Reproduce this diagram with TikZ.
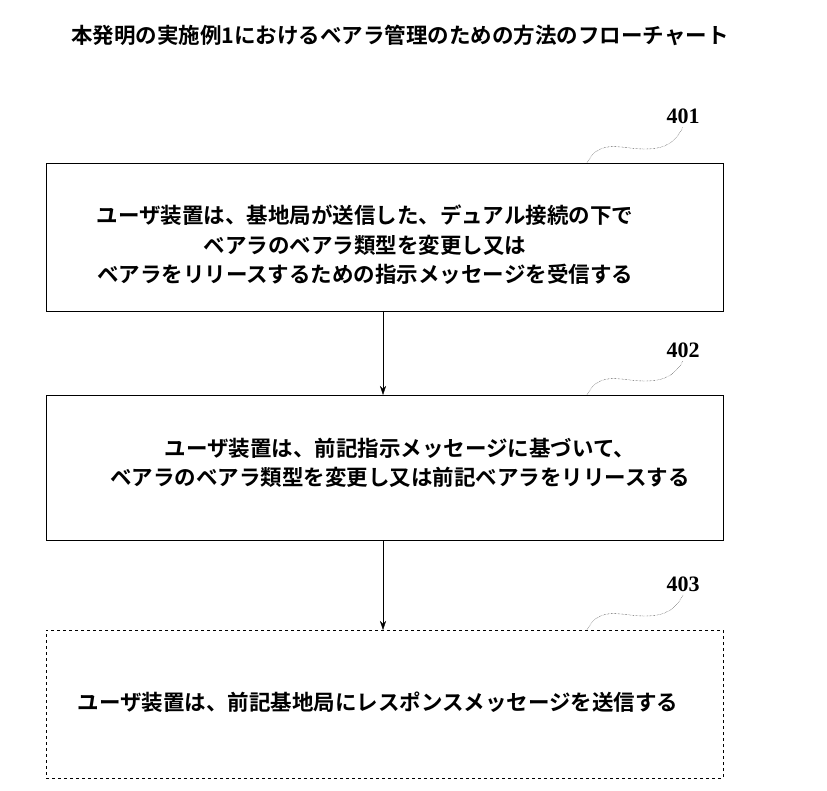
\documentclass[tikz,border=0pt]{standalone}
\usepackage{fontspec}
\usetikzlibrary{arrows.meta}
\newfontfamily\cjk{Noto Sans CJK JP}[BoldFont={Noto Sans CJK JP Bold}]
\setmainfont{Liberation Serif}
\begin{document}
\begin{tikzpicture}[x=1pt,y=-1pt,
 box/.style={draw,thin,minimum width=677pt,anchor=north west,inner sep=0pt},
 txt/.style={font=\cjk\bfseries\fontsize{21.5}{29.5}\selectfont,align=center},
 lab/.style={font=\bfseries\fontsize{22}{24}\selectfont},
 arr/.style={draw,thin,-{Stealth[length=9pt,width=6pt]}},
 sq/.style={draw,thin,densely dotted}]
\useasboundingbox (0,0) rectangle (827,791);
\node[txt] (title) at (400,35) {本発明の実施例1におけるベアラ管理のための方法のフローチャート};
\node[box,minimum height=148pt] (b1) at (46,163) {};
\node[box,minimum height=145pt] (b2) at (46,395) {};
\node[box,minimum height=148pt,dash pattern=on 3pt off 3pt] (b3) at (46,630) {};
\node[txt] (t1) at (365,245) {ユーザ装置は、基地局が送信した、デュアル接続の下で\\ベアラのベアラ類型を変更し又は\\ベアラをリリースするための指示メッセージを受信する};
\node[txt] (t2) at (400,463) {ユーザ装置は、前記指示メッセージに基づいて、\\ベアラのベアラ類型を変更し又は前記ベアラをリリースする};
\node[txt] (t3) at (378,702) {ユーザ装置は、前記基地局にレスポンスメッセージを送信する};
\node[lab] (l1) at (683,116) {401};
\node[lab] (l2) at (683,350) {402};
\node[lab] (l3) at (683,584) {403};
\coordinate (a1) at (383,311); \coordinate (a2) at (383,395);
\coordinate (a3) at (383,540); \coordinate (a4) at (383,630);
\path[arr] (a1) -- (a2);
\path[arr] (a3) -- (a4);
\foreach \l/\y in {l1/163,l2/395,l3/630}{
 \draw[sq] (587,\y) .. controls (600,\y-25) and (620,\y-14) .. (645,\y-14) .. controls (665,\y-14) and (675,\y-20) .. (\l.south);
}
\end{tikzpicture}
\end{document}
